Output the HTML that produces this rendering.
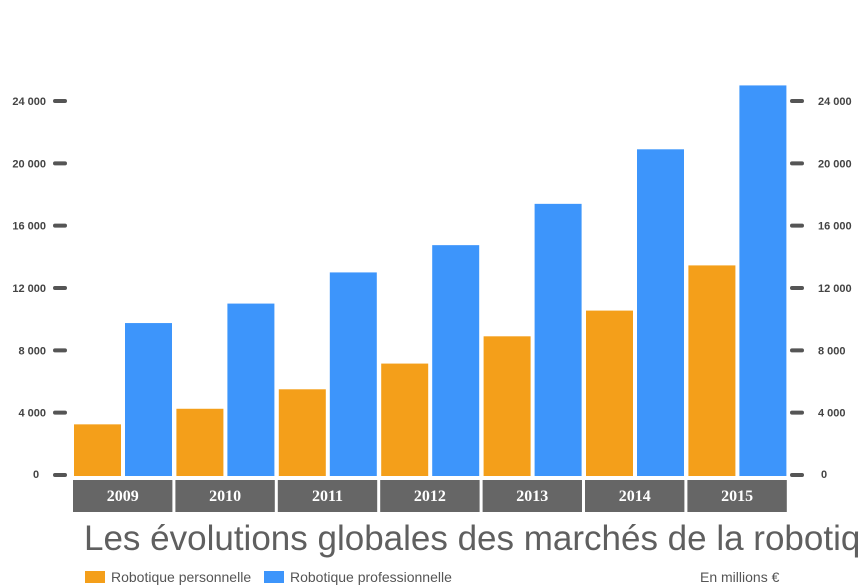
<!DOCTYPE html>
<html><head><meta charset="utf-8"><style>
body{margin:0;background:#fff;width:860px;height:585px;overflow:hidden;font-family:"Liberation Sans",sans-serif}
svg{display:block}
</style></head><body>
<svg id="c" width="860" height="585"></svg>
<script>
const years=["2009","2010","2011","2012","2013","2014","2015"];
const personal=[3250,4250,5500,7150,8900,10550,13450];
const professional=[9750,11000,13000,14750,17400,20900,25000];
const ticks=[0,4000,8000,12000,16000,20000,24000];
const tickLabels=["0","4 000","8 000","12 000","16 000","20 000","24 000"];
const NS="http://www.w3.org/2000/svg";
const svg=document.getElementById('c');
const y0=475,yTop=101,vMax=24000;
const y=v=>y0-(v/vMax)*(y0-yTop);
const x0=73,stride=102.4;
function mk(t,a,p){const e=document.createElementNS(NS,t);for(const k in a)e.setAttribute(k,a[k]);(p||svg).appendChild(e);return e;}
ticks.forEach((t,i)=>{
 const g=mk('g',{});
 
 
 mk('rect',{x:53,y:y(t)-2,width:14,height:4,rx:2,fill:'#555'},g);
 mk('rect',{x:790,y:y(t)-2,width:14,height:4,rx:2,fill:'#555'},g);
 if(t>0){
 const l=mk('text',{x:46,y:y(t)+4,'text-anchor':'end','font-size':11,'font-weight':'bold',fill:'#444'},g);l.textContent=tickLabels[i];
 const r=mk('text',{x:818,y:y(t)+4,'font-size':11,'font-weight':'bold',fill:'#444'},g);r.textContent=tickLabels[i];
 } else {
 const l=mk('text',{x:36,y:y(t)+3,'text-anchor':'middle','font-size':11,'font-weight':'bold',fill:'#444'},g);l.textContent='0';
 const r=mk('text',{x:824,y:y(t)+3,'text-anchor':'middle','font-size':11,'font-weight':'bold',fill:'#444'},g);r.textContent='0';
 }
});
years.forEach((yr,i)=>{
 const gx=x0+i*stride;
 const a=mk('rect',{x:gx+1,y:y(personal[i]),width:47,height:y0+1-y(personal[i]),fill:'#f49f1a'});
 
 
 const b=mk('rect',{x:gx+52,y:y(professional[i]),width:47,height:y0+1-y(professional[i]),fill:'#3d95fb'});
 
 
 const box=mk('rect',{x:gx,y:480,width:stride-3,height:32,fill:'#666'});
 
 
 const t=mk('text',{x:gx+(stride-3)/2,y:501,'text-anchor':'middle','font-size':16,'font-weight':'bold',fill:'#fff','font-family':'Liberation Serif,serif'});
 t.textContent=yr;
 
 
});
</script>
<div style="position:absolute;left:84px;top:519px;width:692px;font-family:'Liberation Sans Narrow','Liberation Sans',sans-serif;font-size:35px;color:#5f5f5f;white-space:nowrap;transform-origin:0 0">Les évolutions globales des marchés de la robotique</div>
<div style="position:absolute;left:85px;top:569px;font-family:'Liberation Sans Narrow','Liberation Sans',sans-serif;font-size:14px;color:#555;white-space:nowrap"><span style="display:inline-block;width:20px;height:12px;background:#f49f1a;vertical-align:-1px;margin-right:6px"></span>Robotique personnelle</div>
<div style="position:absolute;left:264px;top:569px;font-family:'Liberation Sans Narrow','Liberation Sans',sans-serif;font-size:14px;color:#555;white-space:nowrap"><span style="display:inline-block;width:20px;height:12px;background:#3d95fb;vertical-align:-1px;margin-right:6px"></span>Robotique professionnelle</div>
<div style="position:absolute;left:700px;top:569px;font-family:'Liberation Sans Narrow','Liberation Sans',sans-serif;font-size:14px;color:#555;white-space:nowrap">En millions €</div>
</body></html>
